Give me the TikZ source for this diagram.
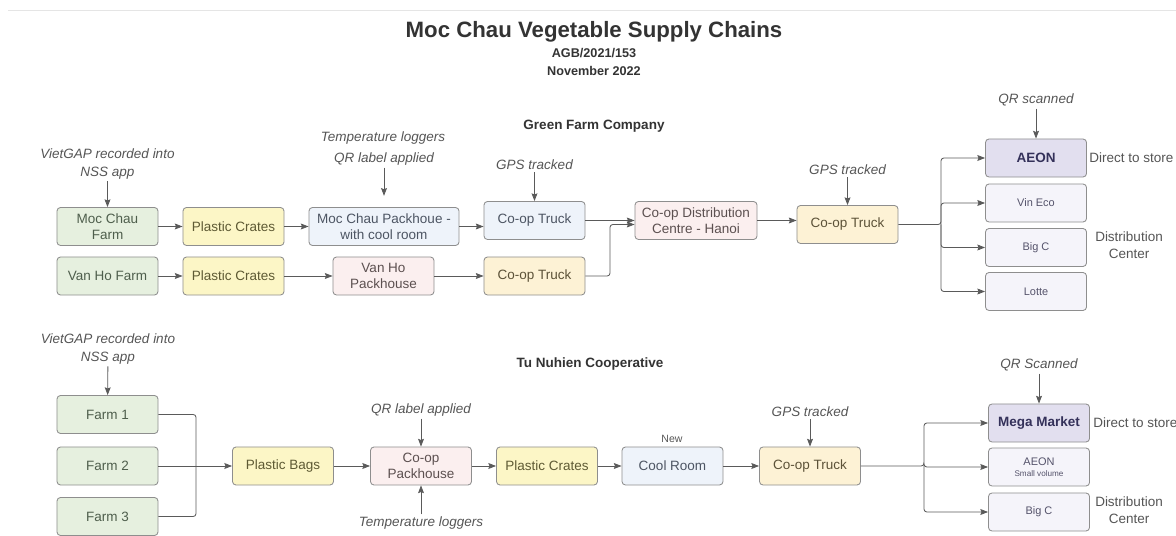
\documentclass[tikz,border=0pt]{standalone}
\usepackage{fontspec}
\setmainfont{Liberation Sans}
\usepackage{tikz}
\usetikzlibrary{arrows.meta}

\definecolor{linegray}{HTML}{5A5A5A}
\definecolor{boxline}{HTML}{8E8E8E}
\definecolor{farmfill}{HTML}{E6F0DF}
\definecolor{farmtext}{HTML}{4E5E4C}
\definecolor{cratefill}{HTML}{FCF6C6}
\definecolor{cratetext}{HTML}{5E5A34}
\definecolor{bluefill}{HTML}{EEF3FA}
\definecolor{bluetext}{HTML}{4D5563}
\definecolor{pinkfill}{HTML}{FBEFEF}
\definecolor{pinktext}{HTML}{5C5050}
\definecolor{peachfill}{HTML}{FDF2D5}
\definecolor{peachtext}{HTML}{5C5238}
\definecolor{storefill}{HTML}{E2DFEF}
\definecolor{storetext}{HTML}{34315A}
\definecolor{shopfill}{HTML}{F5F4FA}
\definecolor{shoptext}{HTML}{55536B}
\definecolor{notegray}{HTML}{555555}
\definecolor{titlegray}{HTML}{333333}

\tikzset{
  stagebox/.style={draw=boxline, line width=0.6pt, rounded corners=2.5pt,
    minimum width=2.525cm, minimum height=0.95cm, inner sep=1pt, align=center,
    font=\fontsize{9.6}{11.4}\selectfont},
  farmbox/.style={stagebox, fill=farmfill, text=farmtext},
  cratebox/.style={stagebox, fill=cratefill, text=cratetext},
  bluebox/.style={stagebox, fill=bluefill, text=bluetext},
  pinkbox/.style={stagebox, fill=pinkfill, text=pinktext},
  truckbox/.style={stagebox, fill=peachfill, text=peachtext},
  storebox/.style={stagebox, fill=storefill, text=storetext,
    font=\fontsize{9.6}{11.4}\selectfont\bfseries},
  shopbox/.style={stagebox, fill=shopfill, text=shoptext,
    font=\fontsize{7.8}{9}\selectfont},
  notetext/.style={text=notegray, align=center, inner sep=1.5pt,
    font=\fontsize{9.6}{12.5}\selectfont\itshape},
  sidetext/.style={text=notegray, align=center, inner sep=0pt,
    font=\fontsize{9.6}{12}\selectfont},
  headtext/.style={text=titlegray, font=\fontsize{9.6}{11.4}\selectfont\bfseries},
}

\begin{document}
\begin{tikzpicture}[x=0.025cm, y=-0.025cm,
    >={Stealth[length=5.5pt,width=4.2pt,inset=0.8pt]},
    flow/.style={->, draw=linegray, line width=0.6pt, rounded corners=2pt},
    link/.style={draw=linegray, line width=0.6pt, rounded corners=2pt}]
  \useasboundingbox (0,0) rectangle (1176,536);
  \draw[black!10, line width=0.6pt] (8,10) -- (1176,10);

  % title block
  \node[text=titlegray, font=\fontsize{15.8}{18}\selectfont\bfseries] (title) at (594,32) {Moc Chau Vegetable Supply Chains};
  \node[headtext, font=\fontsize{9}{10}\selectfont\bfseries] (code) at (594,53) {AGB/2021/153};
  \node[headtext, font=\fontsize{9}{10}\selectfont\bfseries] (date) at (594,71) {November 2022};

  % Green Farm Company
  \node[headtext] (greenfarm) at (594,126) {Green Farm Company};

  \node[farmbox] (mcfarm) at (107.5,226.5) {Moc Chau\\Farm};
  \node[cratebox] (crA) at (233.5,226.5) {Plastic Crates};
  \node[bluebox, minimum width=3.75cm] (mcpack) at (384,226.5) {Moc Chau Packhoue -\\with cool room};
  \node[bluebox] (truckA) at (534.5,220.5) {Co-op Truck};
  \node[pinkbox, minimum width=3.05cm] (dc) at (696,220.5) {Co-op Distribution\\Centre - Hanoi};
  \node[truckbox] (truckC) at (847.5,224.5) {Co-op Truck};

  \node[farmbox] (vhfarm) at (107.5,276) {Van Ho Farm};
  \node[cratebox] (crB) at (233.5,276) {Plastic Crates};
  \node[pinkbox] (vhpack) at (383.5,276) {Van Ho\\Packhouse};
  \node[truckbox] (truckB) at (534.5,276) {Co-op Truck};

  \node[storebox] (aeon) at (1036,158) {AEON};
  \node[shopbox] (vineco) at (1036,203) {Vin Eco};
  \node[shopbox] (bigcA) at (1036,247.5) {Big C};
  \node[shopbox] (lotte) at (1036,291.5) {Lotte};
  \node[sidetext, anchor=west] (directA) at (1089,158) {Direct to store};
  \node[sidetext] (distA) at (1129,245.5) {Distribution\\Center};

  \node[notetext] (vgA) at (107.5,164) {VietGAP recorded into\\NSS app};
  \node[notetext] (tempA) at (383,138) {Temperature loggers};
  \node[notetext] (qrA) at (384,159) {QR label applied};
  \node[notetext] (gpsA) at (534.5,165) {GPS tracked};
  \node[notetext] (gpsC) at (847.5,170) {GPS tracked};
  \node[notetext] (qrC) at (1036,100) {QR scanned};

  \draw[flow] (vgA) -- (mcfarm);
  \draw[flow, shorten >=8pt] (qrA) -- (mcpack);
  \draw[flow] (gpsA) -- (truckA);
  \draw[flow] (gpsC) -- (truckC);
  \draw[flow] (qrC) -- (aeon);

  \draw[flow] (mcfarm) -- (crA);
  \draw[flow] (crA) -- (mcpack);
  \draw[flow] (mcpack.east) -- (mcpack.east -| truckA.west);
  \draw[flow] (truckA) -- (dc);
  \draw[flow] (vhfarm) -- (crB);
  \draw[flow] (crB) -- (vhpack);
  \draw[flow] (vhpack) -- (truckB);
  \coordinate (bendB) at (610,224.5);
  \draw[flow] (truckB) -| (bendB) -- (bendB -| dc.west);
  \draw[flow] (dc.east) -- (dc.east -| truckC.west);

  \coordinate (splitA) at (941,224.5);
  \draw[flow] (truckC) -- (splitA) |- (aeon);
  \draw[flow] (splitA) |- (vineco);
  \draw[flow] (splitA) |- (bigcA);
  \draw[flow] (splitA) |- (lotte);

  % Tu Nuhien Cooperative
  \node[headtext] (tunuhien) at (590,364) {Tu Nuhien Cooperative};

  \node[farmbox] (farmA) at (107.5,414.5) {Farm 1};
  \node[farmbox] (farmB) at (107.5,466) {Farm 2};
  \node[farmbox] (farmC) at (107.5,516.5) {Farm 3};
  \node[cratebox] (bags) at (283,466) {Plastic Bags};
  \node[pinkbox] (cpack) at (421,466) {Co-op\\Packhouse};
  \node[cratebox] (crC) at (547,466) {Plastic Crates};
  \node[bluebox] (cool) at (672.5,466) {Cool Room};
  \node[text=notegray, inner sep=0pt, font=\fontsize{7.5}{8}\selectfont] (new) at (672,439) {New};
  \node[truckbox] (truckD) at (810,466) {Co-op Truck};

  \node[storebox] (mega) at (1039,423) {Mega Market};
  \node[shopbox] (aeonB) at (1039,467) {AEON\\[-1pt]{\fontsize{5.8}{6}\selectfont Small volume}};
  \node[shopbox] (bigcB) at (1039,512) {Big C};
  \node[sidetext, anchor=west] (directB) at (1093,423) {Direct to store};
  \node[sidetext] (distB) at (1129,510.5) {Distribution\\Center};

  \node[notetext] (vgB) at (108,349) {VietGAP recorded into\\NSS app};
  \node[notetext] (qrB) at (421,410) {QR label applied};
  \node[notetext] (tempB) at (421,523) {Temperature loggers};
  \node[notetext] (gpsD) at (810,412) {GPS tracked};
  \node[notetext] (qrD) at (1039,365) {QR Scanned};

  \draw[flow] (vgB) -- (farmA);
  \draw[flow] (qrB) -- (cpack);
  \draw[flow] (tempB) -- (cpack);
  \draw[flow] (gpsD) -- (truckD);
  \draw[flow] (qrD) -- (mega);

  \coordinate (joinF) at (196,466);
  \draw[link] (farmA) -| (joinF);
  \draw[link] (farmC) -| (joinF);
  \draw[flow] (farmB) -- (bags);
  \draw[flow] (bags) -- (cpack);
  \draw[flow] (cpack) -- (crC);
  \draw[flow] (crC) -- (cool);
  \draw[flow] (cool) -- (truckD);

  \coordinate (splitD) at (924,466);
  \draw[flow] (truckD) -- (splitD) |- (mega);
  \draw[flow] (splitD) |- (aeonB);
  \draw[flow] (splitD) |- (bigcB);
\end{tikzpicture}
\end{document}
